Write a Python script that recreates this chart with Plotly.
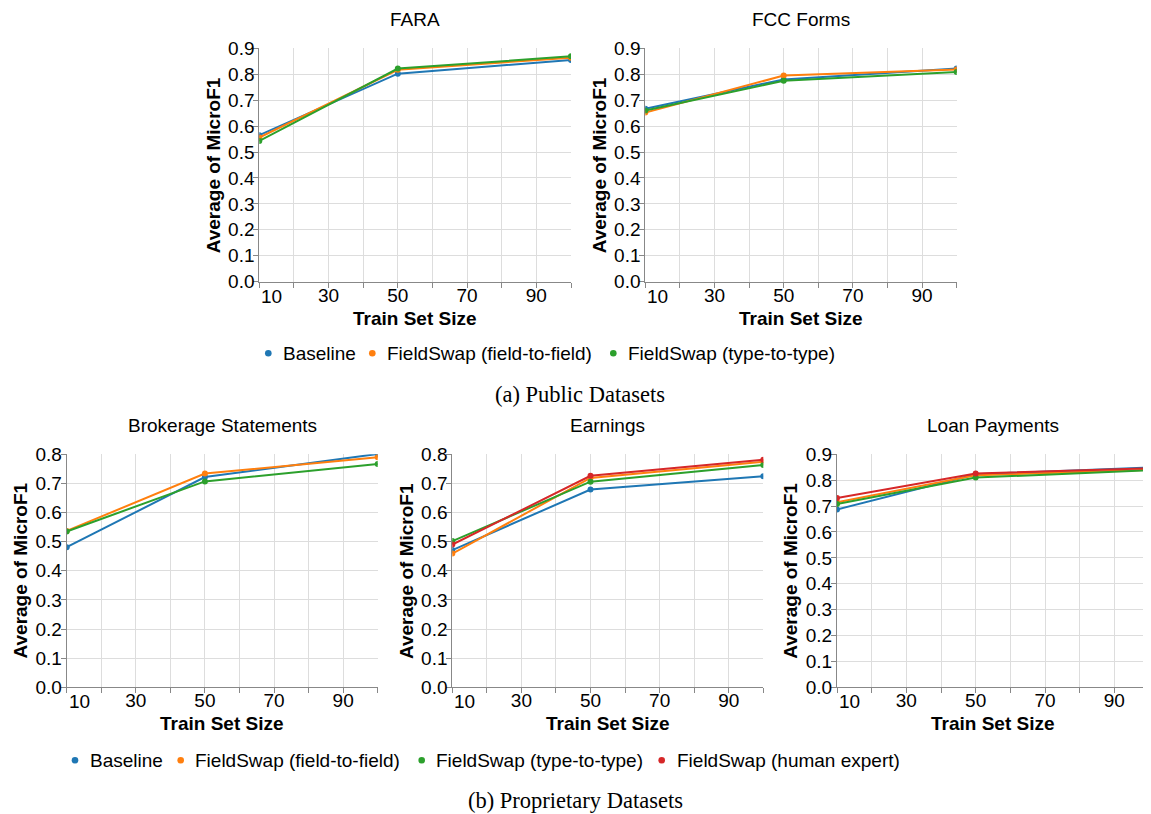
import plotly.graph_objects as go

# ---------------- data ----------------
train_sizes = [10, 50, 100]

series_names = ["Baseline", "FieldSwap (field-to-field)", "FieldSwap (type-to-type)", "FieldSwap (human expert)"]
series_colors = ["#1f77b4", "#ff7f0e", "#2ca02c", "#d62728"]

fara_baseline = [0.565, 0.802, 0.855]
fara_f2f = [0.556, 0.817, 0.864]
fara_t2t = [0.543, 0.822, 0.869]

fcc_baseline = [0.667, 0.780, 0.822]
fcc_f2f = [0.652, 0.795, 0.818]
fcc_t2t = [0.660, 0.775, 0.809]

brok_baseline = [0.481, 0.722, 0.801]
brok_f2f = [0.537, 0.734, 0.790]
brok_t2t = [0.535, 0.707, 0.767]

earn_baseline = [0.471, 0.679, 0.725]
earn_f2f = [0.459, 0.719, 0.774]
earn_t2t = [0.502, 0.706, 0.763]
earn_human = [0.490, 0.726, 0.781]

loan_baseline = [0.687, 0.823, 0.849]
loan_f2f = [0.715, 0.819, 0.840]
loan_t2t = [0.708, 0.810, 0.838]
loan_human = [0.731, 0.826, 0.846]

x_tickvals = [10, 20, 30, 40, 50, 60, 70, 80, 90, 100]
x_ticktext = ["", "", "30", "", "50", "", "70", "", "90", ""]
x_first_tick = 10
x_first_text = "10"

panel_titles = ["FARA", "FCC Forms", "Brokerage Statements", "Earnings", "Loan Payments"]
panel_ymax = [0.9, 0.9, 0.8, 0.8, 0.9]
panel_series = [
    [fara_baseline, fara_f2f, fara_t2t],
    [fcc_baseline, fcc_f2f, fcc_t2t],
    [brok_baseline, brok_f2f, brok_t2t],
    [earn_baseline, earn_f2f, earn_t2t, earn_human],
    [loan_baseline, loan_f2f, loan_t2t, loan_human],
]
x_title = "Train Set Size"
y_title = "Average of MicroF1"
caption_a = "(a) Public Datasets"
caption_b = "(b) Proprietary Datasets"

# ---------------- layout (pixel geometry) ----------------
# the page body has an 8px margin, so the figure is drawn 8px smaller and
# all screen positions are shifted by that offset
OFF = 8
W, H = 1151 - OFF, 814 - OFF
FONT = "Liberation Sans, Arial, Helvetica, sans-serif"
SERIF = "Liberation Serif, Times New Roman, serif"
FS = 19

# plot rectangles on screen: (left, right, top, bottom) in px
rects = [
    (259.3, 571.0, 48.3, 281.7),
    (645.3, 956.7, 48.3, 281.7),
    (66.7, 377.7, 454.3, 687.3),
    (452.3, 763.3, 454.3, 687.3),
    (837.0, 1149.0, 454.3, 687.3),
]


def px(x):
    return (x - OFF) / W


def py(y):
    return 1 - (y - OFF) / H


fig = go.Figure()
layout = dict(
    width=W, height=H, autosize=False,
    margin=dict(l=0, r=0, t=0, b=0, pad=0, autoexpand=False),
    paper_bgcolor="white", plot_bgcolor="white",
    showlegend=False,
    font=dict(family=FONT, size=FS, color="black"),
)
annotations = []
shapes = []

for i, (rect, series, ymax, title) in enumerate(zip(rects, panel_series, panel_ymax, panel_titles)):
    l, r, t, b = rect
    idx = "" if i == 0 else str(i + 1)
    xa, ya = "xaxis" + idx, "yaxis" + idx
    n_ticks = int(round(ymax * 10)) + 1
    yvals = [k / 10 for k in range(n_ticks)]
    layout[xa] = dict(
        domain=[px(l), px(r)], anchor="y" + idx, range=[10, 100],
        tickvals=x_tickvals, ticktext=x_ticktext,
        showgrid=True, gridcolor="#dddddd", gridwidth=1,
        showline=True, linecolor="#888888", linewidth=1,
        ticks="outside", ticklen=5, tickcolor="#888888", tickwidth=1,
        ticklabelstandoff=-9,
        zeroline=False, tickfont=dict(size=FS, color="black"),
        automargin=False, fixedrange=True,
    )
    layout[ya] = dict(
        domain=[py(b), py(t)], anchor="x" + idx, range=[0, ymax],
        tickvals=yvals, ticktext=["%.1f" % v for v in yvals],
        showgrid=True, gridcolor="#dddddd", gridwidth=1,
        showline=True, linecolor="#888888", linewidth=1,
        ticks="outside", ticklen=5, tickcolor="#888888", tickwidth=1,
        ticklabelstandoff=-5,
        zeroline=False, tickfont=dict(size=FS, color="black"),
        automargin=False, fixedrange=True,
    )
    for s, vals in enumerate(series):
        fig.add_trace(go.Scatter(
            x=train_sizes, y=vals, name=series_names[s],
            mode="lines+markers",
            line=dict(color=series_colors[s], width=2),
            marker=dict(color=series_colors[s], size=6),
            xaxis="x" + idx, yaxis="y" + idx, showlegend=False,
        ))
    cx = (l + r) / 2
    cy = (t + b) / 2
    # first x tick label, flush with the left edge of the plot (as Vega-Lite does)
    annotations.append(dict(text=x_first_text, x=x_first_tick, xref="x" + idx,
                            y=py(b + 14.5), yref="paper",
                            showarrow=False, xanchor="left", yanchor="middle",
                            font=dict(size=FS, family=FONT, color="black")))
    annotations.append(dict(text=title, x=px(cx), y=py(t - 28.5), xref="paper", yref="paper",
                            showarrow=False, xanchor="center", yanchor="middle",
                            font=dict(size=FS, family=FONT, color="black")))
    annotations.append(dict(text="<b>%s</b>" % x_title, x=px(cx), y=py(b + 36.5), xref="paper", yref="paper",
                            showarrow=False, xanchor="center", yanchor="middle",
                            font=dict(size=FS, family=FONT, color="black")))
    annotations.append(dict(text="<b>%s</b>" % y_title, x=px(l - 46), y=py(cy), xref="paper", yref="paper",
                            showarrow=False, xanchor="center", yanchor="middle", textangle=-90,
                            font=dict(size=FS, family=FONT, color="black")))

# legends (dot + label)
legend_rows = [
    (353.3, [(268.3, 280.5), (372.3, 385.0), (613.3, 626.0)]),
    (760.3, [(75.0, 87.5), (180.7, 193.3), (421.7, 433.5), (661.7, 675.0)]),
]
for row_y, items in legend_rows:
    for k, (dot_x, text_x) in enumerate(items):
        shapes.append(dict(type="circle", xref="paper", yref="paper",
                           xsizemode="pixel", ysizemode="pixel",
                           xanchor=px(dot_x), yanchor=py(row_y),
                           x0=-3.3, x1=3.3, y0=-3.3, y1=3.3,
                           fillcolor=series_colors[k], line=dict(width=0)))
        annotations.append(dict(text=series_names[k], x=px(text_x), y=py(row_y), xref="paper", yref="paper",
                                showarrow=False, xanchor="left", yanchor="middle",
                                font=dict(size=FS, family=FONT, color="black")))

annotations.append(dict(text=caption_a, x=px(580), y=py(394), xref="paper", yref="paper",
                        showarrow=False, xanchor="center", yanchor="middle",
                        font=dict(size=22.5, family=SERIF, color="black")))
annotations.append(dict(text=caption_b, x=px(575), y=py(800), xref="paper", yref="paper",
                        showarrow=False, xanchor="center", yanchor="middle",
                        font=dict(size=22.5, family=SERIF, color="black")))

layout["annotations"] = annotations
layout["shapes"] = shapes
fig.update_layout(**layout)
fig.write_html("out.html", config={"displayModeBar": False})
